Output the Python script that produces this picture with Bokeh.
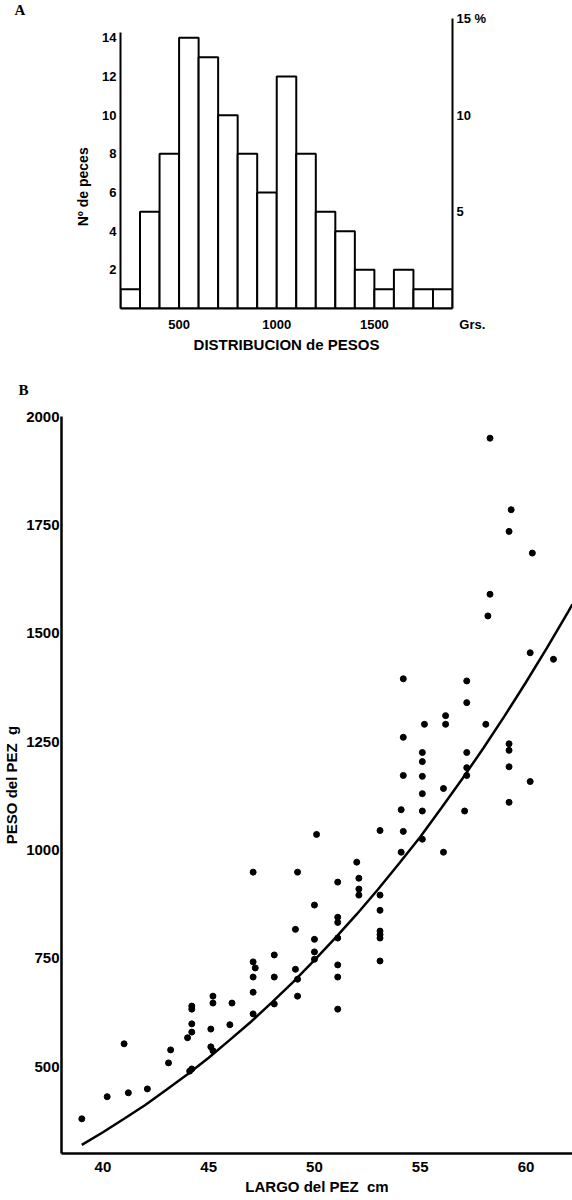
from bokeh.plotting import figure
from bokeh.layouts import column
from bokeh.models import Range1d, LinearAxis, FixedTicker, Title
from bokeh.embed import file_html
from bokeh.resources import INLINE

# ---------------- Panel A: weight distribution ----------------
bin_edges = [200, 300, 400, 500, 600, 700, 800, 900, 1000, 1100, 1200,
             1300, 1400, 1500, 1600, 1700, 1800, 1900]
fish_counts = [1, 5, 8, 14, 13, 10, 8, 6, 12, 8, 5, 4, 2, 1, 2, 1, 1]
hist_x_ticks = [500, 1000, 1500, 1900]
hist_x_labels = {500: "500", 1000: "1000", 1500: "1500",
                 1900: "\u00a0" * 11 + "Grs."}
hist_y_ticks = [2, 4, 6, 8, 10, 12, 14]
pct_ticks = [5, 10, 15]
pct_labels = {5: "5", 10: "10", 15: "15 %"}

# ---------------- Panel B: length vs weight ----------------
length_cm = [39.0, 40.2, 41.0, 41.2, 42.1, 43.2, 43.1, 44.2, 44.1, 44.0,
             44.2, 44.2, 44.2, 44.2, 45.1, 45.2, 45.1, 45.2, 45.2, 46.0,
             46.1, 47.1, 47.1, 47.1, 47.2, 47.1, 47.1, 48.1, 48.1, 48.1,
             49.1, 49.2, 49.2, 49.1, 49.2, 50.0, 50.0, 50.0, 50.0, 50.1,
             51.1, 51.1, 51.1, 51.1, 51.1, 51.1, 51.1, 52.0, 52.1, 52.1,
             52.1, 53.1, 53.1, 53.1, 53.1, 53.1, 53.1, 53.1, 54.1, 54.2,
             54.1, 54.2, 54.2, 54.2, 55.1, 55.1, 55.1, 55.1, 55.1, 55.1,
             55.2, 56.1, 56.1, 56.2, 56.2, 57.1, 57.2, 57.2, 57.2, 57.2,
             57.2, 58.1, 58.2, 58.3, 58.3, 59.2, 59.2, 59.2, 59.2, 59.3,
             59.2, 60.2, 60.2, 60.3, 61.3]
weight_g = [380, 431, 553, 440, 449, 539, 509, 495, 490, 567,
            580, 599, 640, 633, 546, 537, 587, 663, 647, 597,
            647, 622, 672, 707, 728, 742, 949, 645, 707, 758,
            725, 702, 663, 817, 949, 748, 765, 794, 873, 1036,
            633, 707, 735, 797, 833, 845, 926, 972, 935, 910,
            896, 744, 797, 805, 813, 861, 896, 1045, 995, 1043,
            1093, 1172, 1260, 1395, 1025, 1090, 1130, 1170, 1204, 1225,
            1290, 995, 1142, 1290, 1310, 1090, 1172, 1190, 1225, 1340,
            1390, 1290, 1540, 1590, 1950, 1110, 1192, 1230, 1245, 1785,
            1735, 1158, 1455, 1685, 1440]

# fitted length-weight curve
curve_length = [39, 40, 41, 42, 43, 44, 45, 46, 47, 48, 49, 50, 51, 52, 53,
                54, 55, 56, 57, 58, 59, 60, 61, 62, 62.2]
curve_weight = [320, 349, 380, 412, 447, 483, 521, 562, 604, 649, 696, 746,
                798, 852, 909, 969, 1030, 1097, 1165, 1236, 1310, 1387, 1467,
                1550, 1567]
b_x_ticks = [40, 45, 50, 55, 60]
b_y_ticks = [500, 750, 1000, 1250, 1500, 1750, 2000]

FONT = "Liberation Sans"


def style_axis(ax, size, width=2):
    ax.axis_line_width = width
    ax.axis_line_color = "black"
    ax.major_tick_in = 0
    ax.major_tick_out = 0
    ax.minor_tick_line_color = None
    ax.major_label_text_font = FONT
    ax.major_label_text_font_style = "bold"
    ax.major_label_text_font_size = size
    ax.major_label_text_color = "black"
    ax.axis_label_text_font = FONT
    ax.axis_label_text_font_style = "bold"
    ax.axis_label_text_color = "black"


# ---------- figure A ----------
titleA = Title(text="A", align="left", offset=-106, standoff=0,
               vertical_align="middle", text_font="Liberation Serif",
               text_font_style="bold", text_font_size="15px",
               text_color="black")
pA = figure(width=572, height=355, output_backend="svg", toolbar_location=None,
            x_range=Range1d(200, 1900), y_range=Range1d(0, 15),
            min_border_left=120, min_border_right=120, min_border_top=17,
            min_border_bottom=45, outline_line_color=None,
            background_fill_color="white", border_fill_color="white",
            title=titleA)
pA.frame_align = False
pA.grid.visible = False
pA.quad(left=bin_edges[:-1], right=bin_edges[1:], bottom=0, top=fish_counts,
        fill_color="white", line_color="black", line_width=2)

pA.xaxis.ticker = FixedTicker(ticks=hist_x_ticks)
pA.xaxis.major_label_overrides = hist_x_labels
pA.xaxis.axis_label = "DISTRIBUCION de PESOS"
pA.xaxis.major_label_standoff = 8
pA.xaxis.axis_label_standoff = 1
pA.yaxis.ticker = FixedTicker(ticks=hist_y_ticks)
pA.yaxis.axis_label = "Nº de peces" + "\u00a0" * 12
pA.yaxis.major_label_standoff = 4
pA.yaxis.axis_label_standoff = 8
pA.yaxis.bounds = (0, 14.3)
for ax in pA.xaxis + pA.yaxis:
    style_axis(ax, "13px")
pA.xaxis.axis_label_text_font_size = "15px"
pA.yaxis.axis_label_text_font_size = "14px"

right_ax = LinearAxis(ticker=FixedTicker(ticks=pct_ticks),
                      major_label_overrides=pct_labels)
style_axis(right_ax, "13px")
right_ax.major_label_standoff = 4
pA.add_layout(right_ax, "right")

# ---------- figure B ----------
titleB = Title(text="B", align="left", offset=-43, standoff=35,
               vertical_align="middle", text_font="Liberation Serif",
               text_font_style="bold", text_font_size="15px",
               text_color="black")
pB = figure(width=572, height=845, output_backend="svg", toolbar_location=None,
            x_range=Range1d(38.04, 62.2), y_range=Range1d(300, 2000),
            min_border_left=55, min_border_right=0, min_border_top=61,
            min_border_bottom=47, outline_line_color=None,
            background_fill_color="white", border_fill_color="white",
            title=titleB)
pB.frame_align = False
pB.grid.visible = False
pB.line(curve_length, curve_weight, line_color="black", line_width=2.5)
pB.scatter(length_cm, weight_g, size=6, color="black")

pB.xaxis.ticker = FixedTicker(ticks=b_x_ticks)
pB.xaxis.axis_label = "LARGO del PEZ\u00a0\u00a0cm"
pB.xaxis.major_label_standoff = 8
pB.xaxis.axis_label_standoff = 3
pB.yaxis.ticker = FixedTicker(ticks=b_y_ticks)
pB.yaxis.axis_label = "PESO del PEZ\u00a0\u00a0g"
pB.yaxis.major_label_standoff = 2
pB.yaxis.axis_label_standoff = 3
for ax in pB.xaxis + pB.yaxis:
    style_axis(ax, "15px", 2.5)
    ax.axis_label_text_font_size = "15px"

layout = column(pA, pB, spacing=0)
open("out.html", "w").write(file_html(layout, INLINE))
